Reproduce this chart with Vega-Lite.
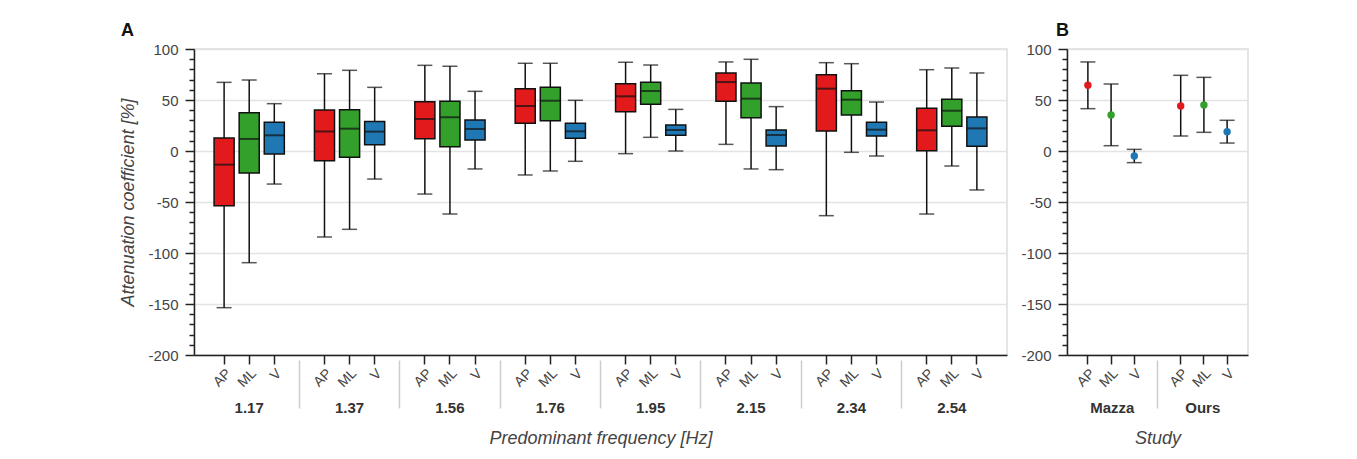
{
  "$schema": "https://vega.github.io/schema/vega-lite/v6.json",
  "padding": {"left": 119, "top": 21, "right": 5, "bottom": 5},
  "spacing": 12,
  "config": {
    "font": "Liberation Sans",
    "view": {"stroke": "#dddddd", "strokeWidth": 1.5},
    "axis": {
      "labelColor": "#444444", "titleColor": "#444444", "domainColor": "#222222", "tickColor": "#222222",
      "domainWidth": 1.5, "tickWidth": 1.5, "gridColor": "#e3e3e3", "gridWidth": 1.5,
      "labelFontSize": 15, "titleFontSize": 18, "titleFontStyle": "italic", "titleFontWeight": "normal"
    },
    "title": {"fontSize": 18, "fontWeight": "bold", "anchor": "start", "frame": "group", "color": "#111111"}
  },
  "datasets": {
    "boxes": [
      {"freq": "1.17", "dir": "AP", "cat": "1.17 AP", "min": -153.6, "q1": -53.6, "median": -13.4, "q3": 12.7, "max": 67.3},
      {"freq": "1.17", "dir": "ML", "cat": "1.17 ML", "min": -109.5, "q1": -21.6, "median": 11.8, "q3": 37.6, "max": 69.6},
      {"freq": "1.17", "dir": "V", "cat": "1.17 V", "min": -32.4, "q1": -2.9, "median": 15.4, "q3": 28.1, "max": 46.4},
      {"freq": "1.37", "dir": "AP", "cat": "1.37 AP", "min": -84.3, "q1": -9.5, "median": 19.0, "q3": 40.2, "max": 75.8},
      {"freq": "1.37", "dir": "ML", "cat": "1.37 ML", "min": -76.8, "q1": -6.2, "median": 21.9, "q3": 40.5, "max": 79.1},
      {"freq": "1.37", "dir": "V", "cat": "1.37 V", "min": -27.5, "q1": 6.2, "median": 19.0, "q3": 28.8, "max": 62.4},
      {"freq": "1.56", "dir": "AP", "cat": "1.56 AP", "min": -42.2, "q1": 12.1, "median": 31.4, "q3": 48.4, "max": 84.0},
      {"freq": "1.56", "dir": "ML", "cat": "1.56 ML", "min": -61.8, "q1": 4.2, "median": 33.0, "q3": 48.7, "max": 83.0},
      {"freq": "1.56", "dir": "V", "cat": "1.56 V", "min": -17.6, "q1": 10.8, "median": 21.6, "q3": 30.4, "max": 58.5},
      {"freq": "1.76", "dir": "AP", "cat": "1.76 AP", "min": -23.5, "q1": 27.1, "median": 44.1, "q3": 61.1, "max": 86.0},
      {"freq": "1.76", "dir": "ML", "cat": "1.76 ML", "min": -19.6, "q1": 29.7, "median": 49.3, "q3": 62.4, "max": 86.0},
      {"freq": "1.76", "dir": "V", "cat": "1.76 V", "min": -10.1, "q1": 12.4, "median": 19.3, "q3": 27.1, "max": 49.7},
      {"freq": "1.95", "dir": "AP", "cat": "1.95 AP", "min": -2.6, "q1": 38.5, "median": 53.6, "q3": 66.0, "max": 87.0},
      {"freq": "1.95", "dir": "ML", "cat": "1.95 ML", "min": 13.4, "q1": 45.8, "median": 58.8, "q3": 67.3, "max": 84.3},
      {"freq": "1.95", "dir": "V", "cat": "1.95 V", "min": 0.0, "q1": 15.4, "median": 20.6, "q3": 25.5, "max": 40.8},
      {"freq": "2.15", "dir": "AP", "cat": "2.15 AP", "min": 6.5, "q1": 48.7, "median": 67.6, "q3": 76.5, "max": 87.3},
      {"freq": "2.15", "dir": "ML", "cat": "2.15 ML", "min": -17.6, "q1": 32.7, "median": 51.3, "q3": 66.7, "max": 89.9},
      {"freq": "2.15", "dir": "V", "cat": "2.15 V", "min": -18.3, "q1": 4.9, "median": 15.7, "q3": 20.6, "max": 43.5},
      {"freq": "2.34", "dir": "AP", "cat": "2.34 AP", "min": -63.4, "q1": 19.6, "median": 61.1, "q3": 74.8, "max": 86.6},
      {"freq": "2.34", "dir": "ML", "cat": "2.34 ML", "min": -1.3, "q1": 35.3, "median": 50.3, "q3": 59.1, "max": 85.6},
      {"freq": "2.34", "dir": "V", "cat": "2.34 V", "min": -4.9, "q1": 14.7, "median": 20.9, "q3": 28.1, "max": 48.0},
      {"freq": "2.54", "dir": "AP", "cat": "2.54 AP", "min": -61.8, "q1": 0.3, "median": 20.3, "q3": 41.9, "max": 79.7},
      {"freq": "2.54", "dir": "ML", "cat": "2.54 ML", "min": -14.7, "q1": 24.2, "median": 39.5, "q3": 50.7, "max": 81.4},
      {"freq": "2.54", "dir": "V", "cat": "2.54 V", "min": -38.2, "q1": 4.6, "median": 22.2, "q3": 33.3, "max": 76.5}
    ],
    "study": [
      {"study": "Mazza", "dir": "AP", "cat": "Mazza AP", "lo": 41.5, "mean": 64.4, "hi": 87.3},
      {"study": "Mazza", "dir": "ML", "cat": "Mazza ML", "lo": 5.2, "mean": 35.3, "hi": 65.7},
      {"study": "Mazza", "dir": "V", "cat": "Mazza V", "lo": -11.4, "mean": -4.9, "hi": 1.6},
      {"study": "Ours", "dir": "AP", "cat": "Ours AP", "lo": 14.7, "mean": 44.1, "hi": 74.2},
      {"study": "Ours", "dir": "ML", "cat": "Ours ML", "lo": 18.3, "mean": 45.1, "hi": 72.2},
      {"study": "Ours", "dir": "V", "cat": "Ours V", "lo": 7.8, "mean": 18.9, "hi": 30.1}
    ]
  },
  "hconcat": [
    {
      "width": 813,
      "height": 306,
      "title": {"text": "A", "dx": -73, "offset": 2},
      "data": {"name": "boxes"},
      "layer": [
        {
          "encoding": {
            "x": {
              "field": "cat", "type": "nominal",
              "scale": {
                "domain": ["1.17 AP", "1.17 ML", "1.17 V", "gap1", "1.37 AP", "1.37 ML", "1.37 V", "gap2", "1.56 AP", "1.56 ML", "1.56 V", "gap3", "1.76 AP", "1.76 ML", "1.76 V", "gap4", "1.95 AP", "1.95 ML", "1.95 V", "gap5", "2.15 AP", "2.15 ML", "2.15 V", "gap6", "2.34 AP", "2.34 ML", "2.34 V", "gap7", "2.54 AP", "2.54 ML", "2.54 V"],
                "paddingInner": 0, "paddingOuter": 0.7
              },
              "axis": {
                "orient": "bottom", "title": null, "grid": false,
                "labelExpr": "indexof(datum.value, 'gap') === 0 ? '' : split(datum.value, ' ')[1]",
                "labelAngle": -45, "labelFontSize": 14, "labelPadding": 2, "tickSize": 9,
                "tickOpacity": {"condition": {"test": "indexof(datum.value, 'gap') === 0", "value": 0}, "value": 1}
              }
            }
          },
          "layer": [
            {
              "mark": {"type": "rule", "color": "#111111", "strokeWidth": 1.5},
              "encoding": {
                "y": {
                  "field": "min", "type": "quantitative",
                  "scale": {"domain": [-200, 100], "nice": false, "zero": false},
                  "axis": {
                    "values": [-200, -150, -100, -50, 0, 50, 100],
                    "labelExpr": "toString(datum.value)", "labelOverlap": false,
                    "tickSize": 9, "grid": true,
                    "title": "Attenuation coefficient [%]", "titlePadding": 10, "labelPadding": 7
                  }
                },
                "y2": {"field": "max"}
              }
            },
            {"mark": {"type": "tick", "color": "#111111", "thickness": 1.5, "size": 15}, "encoding": {"y": {"field": "max", "type": "quantitative"}}},
            {"mark": {"type": "tick", "color": "#111111", "thickness": 1.5, "size": 15}, "encoding": {"y": {"field": "min", "type": "quantitative"}}},
            {
              "mark": {"type": "bar", "stroke": "#111111", "strokeWidth": 1.5, "width": {"band": 0.8}, "opacity": 1},
              "encoding": {
                "y": {"field": "q1", "type": "quantitative"},
                "y2": {"field": "q3"},
                "color": {"field": "dir", "type": "nominal", "scale": {"domain": ["AP", "ML", "V"], "range": ["#e31a1c", "#33a02c", "#1f78b4"]}, "legend": null}
              }
            },
            {"mark": {"type": "tick", "color": "#111111", "thickness": 2, "size": 20}, "encoding": {"y": {"field": "median", "type": "quantitative"}}}
          ]
        },
        {
          "mark": {"type": "tick", "opacity": 0},
          "encoding": {
            "x": {
              "field": "freq", "type": "nominal",
              "scale": {"paddingInner": 0, "paddingOuter": 0.05},
              "axis": {
                "orient": "bottom", "offset": 5, "domain": false, "grid": false,
                "bandPosition": 0, "tickSize": 48, "tickColor": "#cccccc", "tickWidth": 1.5,
                "tickOpacity": {"condition": {"test": "datum.value === '1.17'", "value": 0}, "value": 1},
                "labelAngle": 0, "labelFontWeight": "bold", "labelFontSize": 15, "labelColor": "#333333", "labelPadding": -8,
                "title": "Predominant frequency [Hz]", "titlePadding": 14
              }
            }
          }
        },
        {
          "mark": {"type": "tick", "opacity": 0},
          "encoding": {
            "y": {
              "field": "median", "type": "quantitative",
              "scale": {"domain": [-200, 100], "nice": false, "zero": false},
              "axis": {
                "orient": "left", "values": [-190, -180, -170, -160, -140, -130, -120, -110, -90, -80, -70, -60, -40, -30, -20, -10, 10, 20, 30, 40, 60, 70, 80, 90],
                "labels": false, "grid": false, "domain": false, "tickSize": 5, "title": null
              }
            }
          }
        }
      ],
      "resolve": {"scale": {"x": "independent", "y": "independent"}, "axis": {"x": "independent", "y": "independent"}}
    },
    {
      "width": 181,
      "height": 306,
      "title": {"text": "B", "dx": -11, "offset": 2},
      "data": {"name": "study"},
      "layer": [
        {
          "encoding": {
            "x": {
              "field": "cat", "type": "nominal",
              "scale": {"domain": ["Mazza AP", "Mazza ML", "Mazza V", "gap1", "Ours AP", "Ours ML", "Ours V"], "paddingInner": 0, "paddingOuter": 0.4},
              "axis": {
                "orient": "bottom", "title": null, "grid": false,
                "labelExpr": "indexof(datum.value, 'gap') === 0 ? '' : split(datum.value, ' ')[1]",
                "labelAngle": -45, "labelFontSize": 14, "labelPadding": 2, "tickSize": 9,
                "tickOpacity": {"condition": {"test": "indexof(datum.value, 'gap') === 0", "value": 0}, "value": 1}
              }
            }
          },
          "layer": [
            {
              "mark": {"type": "rule", "color": "#111111", "strokeWidth": 1.5},
              "encoding": {
                "y": {
                  "field": "lo", "type": "quantitative",
                  "scale": {"domain": [-200, 100], "nice": false, "zero": false},
                  "axis": {
                    "values": [-200, -150, -100, -50, 0, 50, 100],
                    "labelExpr": "toString(datum.value)", "labelOverlap": false,
                    "tickSize": 9, "grid": true,
                    "title": null, "labelPadding": 7
                  }
                },
                "y2": {"field": "hi"}
              }
            },
            {"mark": {"type": "tick", "color": "#111111", "thickness": 1.5, "size": 15}, "encoding": {"y": {"field": "hi", "type": "quantitative"}}},
            {"mark": {"type": "tick", "color": "#111111", "thickness": 1.5, "size": 15}, "encoding": {"y": {"field": "lo", "type": "quantitative"}}},
            {
              "mark": {"type": "circle", "size": 55, "opacity": 1},
              "encoding": {
                "y": {"field": "mean", "type": "quantitative"},
                "color": {"field": "dir", "type": "nominal", "scale": {"domain": ["AP", "ML", "V"], "range": ["#e31a1c", "#33a02c", "#1f78b4"]}, "legend": null}
              }
            }
          ]
        },
        {
          "mark": {"type": "tick", "opacity": 0},
          "encoding": {
            "x": {
              "field": "study", "type": "nominal",
              "scale": {"paddingInner": 0, "paddingOuter": 0},
              "axis": {
                "orient": "bottom", "offset": 5, "domain": false, "grid": false,
                "bandPosition": 0, "tickSize": 48, "tickColor": "#cccccc", "tickWidth": 1.5,
                "tickOpacity": {"condition": {"test": "datum.value === 'Mazza'", "value": 0}, "value": 1},
                "labelAngle": 0, "labelFontWeight": "bold", "labelFontSize": 15, "labelColor": "#333333", "labelPadding": -8,
                "title": "Study", "titlePadding": 14
              }
            }
          }
        },
        {
          "mark": {"type": "tick", "opacity": 0},
          "encoding": {
            "y": {
              "field": "mean", "type": "quantitative",
              "scale": {"domain": [-200, 100], "nice": false, "zero": false},
              "axis": {
                "orient": "left", "values": [-190, -180, -170, -160, -140, -130, -120, -110, -90, -80, -70, -60, -40, -30, -20, -10, 10, 20, 30, 40, 60, 70, 80, 90],
                "labels": false, "grid": false, "domain": false, "tickSize": 5, "title": null
              }
            }
          }
        }
      ],
      "resolve": {"scale": {"x": "independent", "y": "independent"}, "axis": {"x": "independent", "y": "independent"}}
    }
  ]
}
